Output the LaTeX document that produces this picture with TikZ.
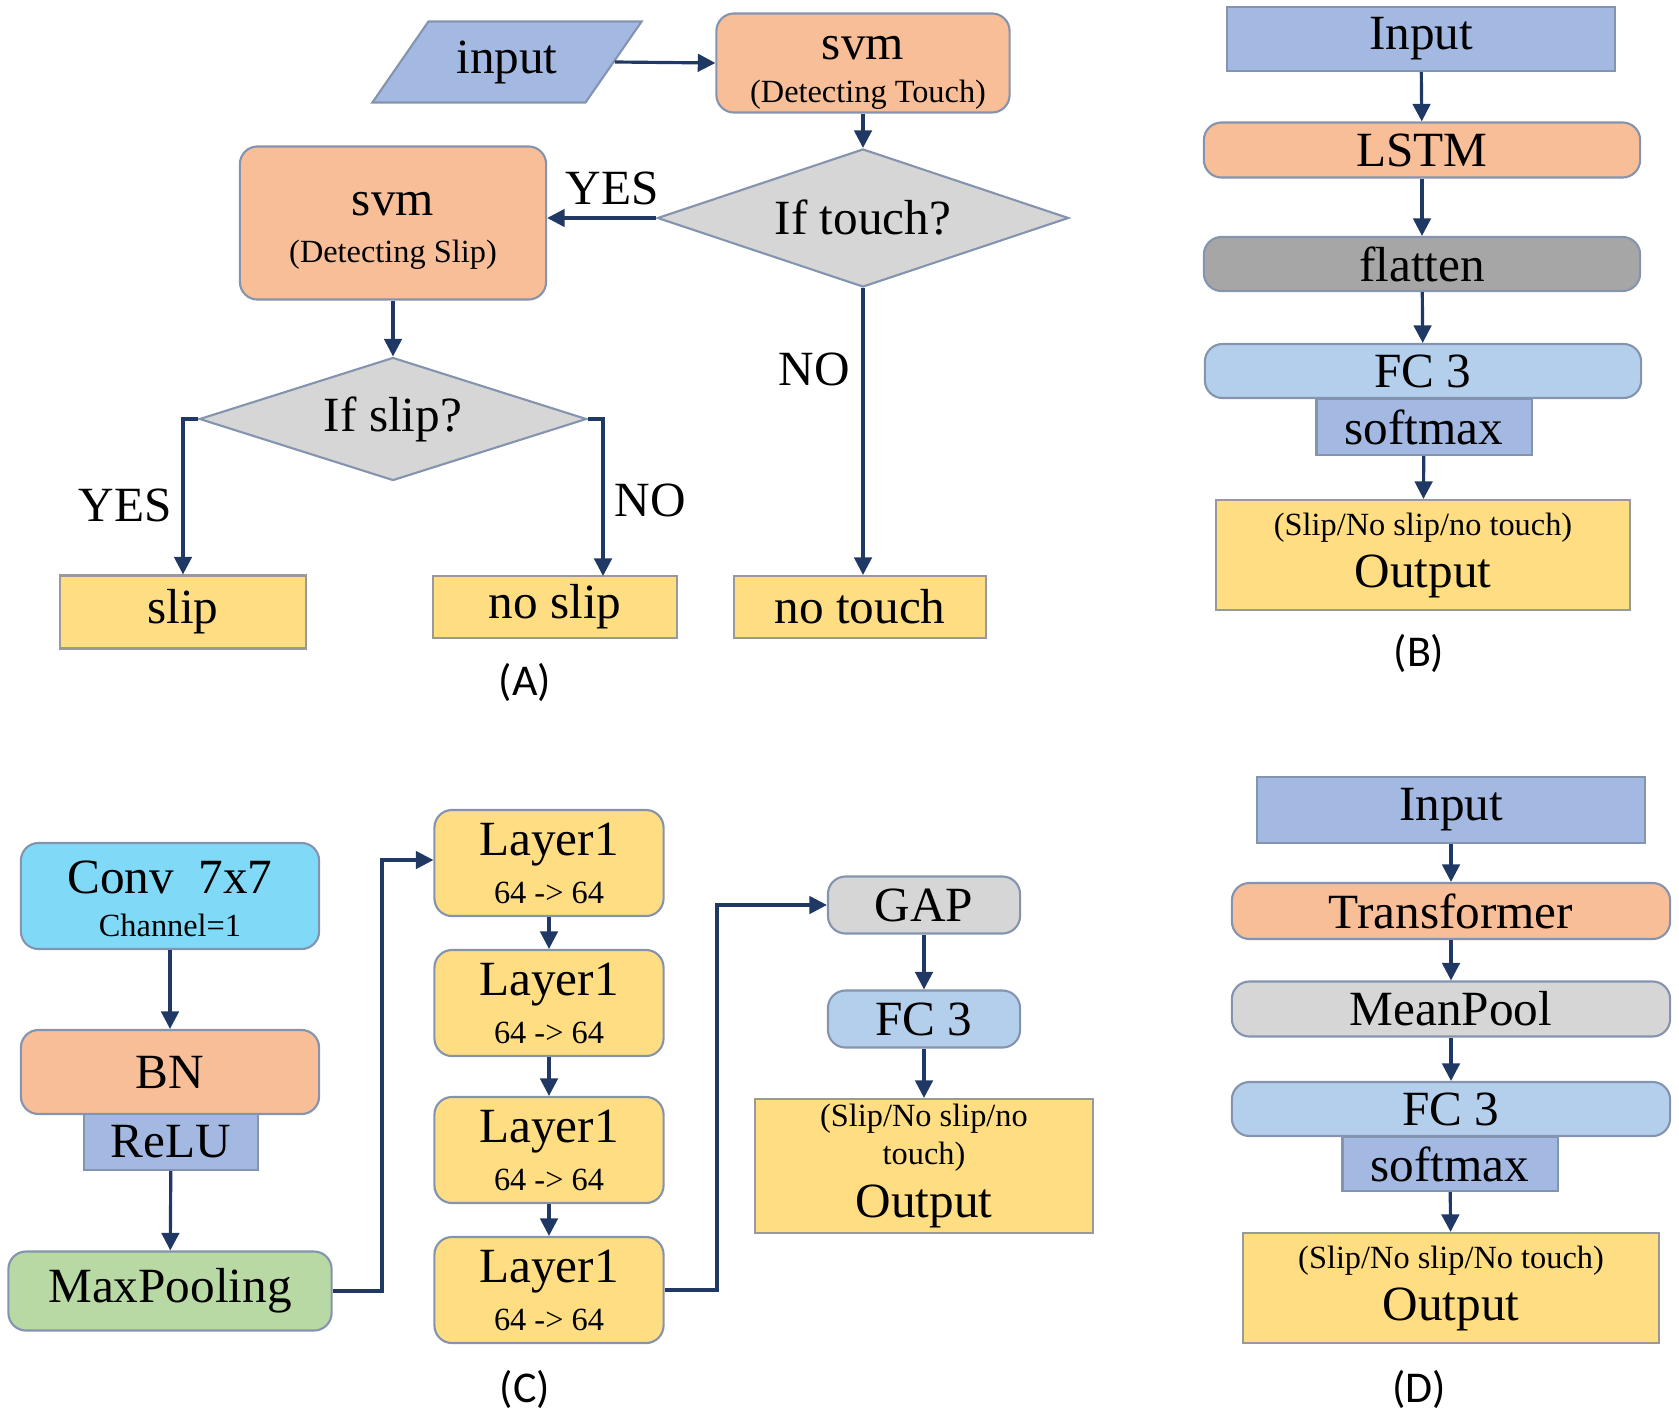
\documentclass[tikz,border=0pt]{standalone}
\usepackage{fontspec}
\setmainfont{Liberation Serif}
\newfontfamily\capfont{Carlito}
\usetikzlibrary{arrows.meta,shapes.geometric}

\definecolor{cOrange}{HTML}{F8BE98}
\definecolor{cBlue}{HTML}{A4B9E2}
\definecolor{cLight}{HTML}{B4CFEC}
\definecolor{cYellow}{HTML}{FFDD82}
\definecolor{cGray}{HTML}{D6D6D6}
\definecolor{cDark}{HTML}{A6A6A6}
\definecolor{cGreen}{HTML}{B8D8A4}
\definecolor{cCyan}{HTML}{80D9F6}
\definecolor{cEdge}{HTML}{8494AE}
\definecolor{cLine}{HTML}{1F3864}

\newcommand{\bigtxt}{\fontsize{14pt}{15pt}\selectfont}
\newcommand{\smalltxt}{\fontsize{9.2pt}{11pt}\selectfont}

\begin{document}
\begin{tikzpicture}[x=0.01cm, y=-0.01cm,
	box/.style={draw=cEdge, line width=0.6pt, inner sep=0pt, align=center, font=\bigtxt},
	rbox/.style={box, rounded corners=5pt},
	yel/.style={box, draw=gray!80, fill=cYellow},
	choice/.style={diamond, draw=cEdge, line width=0.6pt, fill=cGray, inner sep=0pt, aspect=3, font=\bigtxt},
	link/.style={->, line width=0.9pt, cLine},
	lbl/.style={font=\bigtxt},
	panel/.style={font=\capfont\fontsize{12.5pt}{14pt}\selectfont},
	>={Triangle[length=5pt,width=5pt]}]
	\useasboundingbox (0,0) rectangle (1679,1418);

	% (A) decision flow
	\node[trapezium, trapezium left angle=50, trapezium right angle=130, trapezium stretches=true,
		draw=cEdge, line width=0.6pt, fill=cBlue,
		minimum width=2.70cm, minimum height=0.81cm, inner sep=0pt, font=\bigtxt] (input) at (507,62) {input};
	\node[rbox, fill=cOrange, minimum width=2.93cm, minimum height=0.99cm] (svmT) at (863,63) {};
	\node[lbl] at (863,48) {svm};
	\node[font=\smalltxt] at (868,95) {(Detecting Touch)};
	\node[choice, minimum width=4.11cm, minimum height=1.38cm] (touch) at (863,218) {If touch?};
	\node[rbox, fill=cOrange, minimum width=3.06cm, minimum height=1.53cm] (svmS) at (393,223) {};
	\node[lbl] at (393,204) {svm};
	\node[font=\smalltxt] at (393,255) {(Detecting Slip)};
	\node[choice, minimum width=3.87cm, minimum height=1.23cm] (slipq) at (393,419) {If slip?};
	\node[yel, minimum width=2.45cm, minimum height=0.73cm] (slip) at (183,612) {slip};
	\node[yel, minimum width=2.43cm, minimum height=0.62cm] (noslip) at (555,607) {no slip};
	\node[yel, minimum width=2.51cm, minimum height=0.62cm] (notouch) at (860,607) {no touch};
	\draw[link] (input.east) -- (svmT.west);
	\draw[link] (svmT.south) -- (touch.north);
	\draw[link] (touch.west) -- (touch.west -| svmS.east);
	\draw[link] (svmS.south) -- (slipq.north);
	\draw[link] (slipq.west) -| (slip.north);
	\draw[link] (slipq.east) -| (603,576);
	\draw[link] (touch.south) -- (notouch.north -| touch.south);
	\node[lbl] at (612,188) {YES};
	\node[lbl] at (125,505) {YES};
	\node[lbl] at (650,500) {NO};
	\node[lbl] at (814,369) {NO};
	\node[panel] at (525,682) {(A)};

	% (B) LSTM
	\node[box, fill=cBlue, minimum width=3.87cm, minimum height=0.64cm] (inB) at (1421,39) {Input};
	\node[rbox, fill=cOrange, minimum width=4.36cm, minimum height=0.55cm] (lstm) at (1422,150) {LSTM};
	\node[rbox, fill=cDark, minimum width=4.36cm, minimum height=0.54cm] (flat) at (1422,264) {flatten};
	\node[rbox, fill=cLight, minimum width=4.36cm, minimum height=0.54cm] (fcB) at (1423,371) {FC 3};
	\node[box, fill=cBlue, minimum width=2.15cm, minimum height=0.56cm] (smB) at (1424,427) {softmax};
	\node[yel, minimum width=4.14cm, minimum height=1.10cm] (outB) at (1423,555) {};
	\node[font=\smalltxt] at (1423,528) {(Slip/No slip/no touch)};
	\node[lbl] at (1423,576) {Output};
	\draw[link] (inB) -- (lstm);
	\draw[link] (lstm) -- (flat);
	\draw[link] (flat) -- (fcB);
	\draw[link] (smB) -- (outB);
	\node[panel] at (1419,653) {(B)};

	% (C) CNN
	\node[rbox, fill=cCyan, minimum width=2.98cm, minimum height=1.06cm] (conv) at (170,896) {};
	\node[lbl] at (170,877) {Conv\enspace 7x7};
	\node[font=\smalltxt] at (170,925) {Channel=1};
	\node[rbox, fill=cOrange, minimum width=2.98cm, minimum height=0.84cm] (bn) at (170,1072) {BN};
	\node[box, fill=cBlue, minimum width=1.74cm, minimum height=0.56cm] (relu) at (171,1142) {ReLU};
	\node[rbox, fill=cGreen, minimum width=3.23cm, minimum height=0.79cm] (pool) at (170,1291) {MaxPooling};
	\draw[link] (conv) -- (bn);
	\draw[link] (relu) -- (pool);
	\foreach \y [count=\i] in {863,1003,1150,1290} {
		\node[rbox, fill=cYellow, minimum width=2.29cm, minimum height=1.06cm] (layer\i) at (549,\y) {};
		\node[lbl] at (549,\y-18) {Layer1};
		\node[font=\smalltxt] at (549,\y+30) {64 -> 64};
	}
	\foreach \a/\b in {1/2,2/3,3/4}
		\draw[link] (layer\a) -- (layer\b);
	\draw[link] (pool.east) -- (382,1291) |- (layer1.west |- 0,860);
	\node[rbox, fill=cGray, minimum width=1.92cm, minimum height=0.57cm] (gap) at (924,905) {GAP};
	\node[rbox, fill=cLight, minimum width=1.92cm, minimum height=0.57cm] (fcC) at (924,1019) {FC 3};
	\node[yel, minimum width=3.38cm, minimum height=1.34cm] (outC) at (924,1166) {};
	\node[font=\smalltxt] at (924,1119) {(Slip/No slip/no};
	\node[font=\smalltxt] at (924,1157) {touch)};
	\node[lbl] at (924,1206) {Output};
	\draw[link] (layer4.east) -- (717,1290) |- (gap.west);
	\draw[link] (gap) -- (fcC);
	\draw[link] (fcC) -- (outC);
	\node[panel] at (525,1389) {(C)};

	% (D) Transformer
	\node[box, fill=cBlue, minimum width=3.88cm, minimum height=0.66cm] (inD) at (1451,810) {Input};
	\node[rbox, fill=cOrange, minimum width=4.38cm, minimum height=0.56cm] (trans) at (1451,911) {Transformer};
	\node[rbox, fill=cGray, minimum width=4.38cm, minimum height=0.55cm] (mean) at (1451,1009) {MeanPool};
	\node[rbox, fill=cLight, minimum width=4.38cm, minimum height=0.54cm] (fcD) at (1451,1109) {FC 3};
	\node[box, fill=cBlue, minimum width=2.15cm, minimum height=0.54cm] (smD) at (1450,1164) {softmax};
	\node[yel, minimum width=4.16cm, minimum height=1.10cm] (outD) at (1451,1288) {};
	\node[font=\smalltxt] at (1451,1261) {(Slip/No slip/No touch)};
	\node[lbl] at (1451,1309) {Output};
	\draw[link] (inD) -- (trans);
	\draw[link] (trans) -- (mean);
	\draw[link] (mean) -- (fcD);
	\draw[link] (smD) -- (outD);
	\node[panel] at (1419,1389) {(D)};
\end{tikzpicture}
\end{document}
